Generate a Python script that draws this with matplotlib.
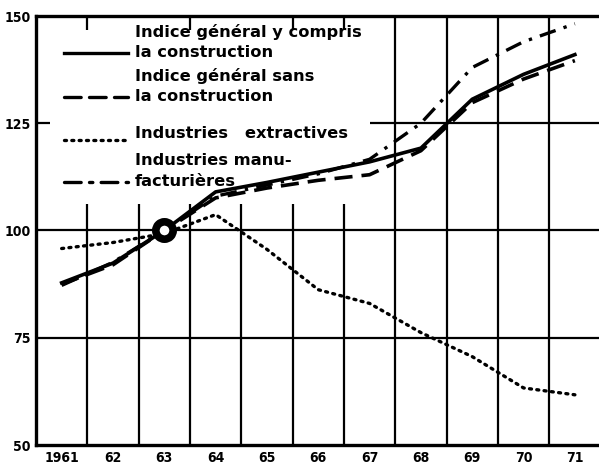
import matplotlib
matplotlib.use("Agg")
import matplotlib.pyplot as plt
from matplotlib.lines import Line2D
from matplotlib.transforms import offset_copy

# Indices de la production industrielle (1963 = 100)
years = [1961, 1962, 1963, 1964, 1965, 1966, 1967, 1968, 1969, 1970, 1971]
year_labels = ["1961", "62", "63", "64", "65", "66", "67", "68", "69", "70", "71"]

general_with_constr = [87.8, 92.4, 100, 109.0, 111.2, 113.6, 116.0, 119.2, 130.6, 136.4, 141.0]
general_without_constr = [87.5, 92.0, 100, 107.6, 109.9, 111.7, 113.0, 118.6, 129.8, 135.3, 139.6]
extractives = [95.8, 97.2, 99.3, 103.7, 95.6, 86.2, 83.0, 76.2, 70.6, 63.3, 61.7]
manufacturieres = [87.2, 92.6, 100, 108.0, 110.6, 113.2, 116.6, 125.0, 138.0, 144.0, 148.2]

y_ticks = [50, 75, 100, 125, 150]

TICK_FONT = dict(family=["DejaVu Sans"], fontstretch="condensed", fontweight="bold", fontsize=10)

fig = plt.figure(figsize=(5.99, 4.65), dpi=100)
ax = fig.add_axes([36 / 599, 1 - 445 / 465, 1 - 36 / 599, (445 - 16) / 465])
ax.set_xlim(1960.5, 1971.47)
ax.set_ylim(50, 150)

# grid: lower verticals, top stubs, full verticals on the right
bounds = [y + 0.5 for y in years[:-1]]
ax.vlines(bounds[:6], 50, 106.2, color="black", lw=1.6, zorder=1)
ax.vlines(bounds[6:], 50, 150, color="black", lw=1.6, zorder=1)
ax.vlines([bounds[0], bounds[2], bounds[4], bounds[5]], 146.8, 150, color="black", lw=1.6, zorder=1)
ax.hlines([75, 100], 1960.5, 1971.47, color="black", lw=1.6, zorder=1)
ax.hlines(125, 1967.0, 1971.47, color="black", lw=1.6, zorder=1)
ax.hlines(125, 1960.5, 1960.78, color="black", lw=1.6, zorder=1)

ax.plot(years, extractives, color="black", lw=2.4, linestyle=(0, (0.6, 1.6)),
        dash_capstyle="round", zorder=3)
ax.plot(years, manufacturieres, color="black", lw=2.4, linestyle=(0, (5, 2.5, 1, 2.5)), zorder=3)
ax.plot(years, general_without_constr, color="black", lw=2.6, linestyle=(0, (5, 2.5)), zorder=3)
ax.plot(years, general_with_constr, color="black", lw=2.6, zorder=3)

# base year marker
ax.plot([1963], [100], marker="o", markersize=12.5, markerfacecolor="white",
        markeredgecolor="black", markeredgewidth=5.5, zorder=5)

ax.spines["right"].set_visible(False)
for side in ["left", "bottom", "top"]:
    ax.spines[side].set_linewidth(2.4)

ax.set_xticks(years)
ax.set_xticklabels(year_labels, **TICK_FONT)
ax.set_yticks(y_ticks)
ax.set_yticklabels([str(v) for v in y_ticks], **TICK_FONT)
ax.tick_params(length=0, pad=4)

# legend drawn by hand: handle level with the last line of each label
legend = [
    (["Indice général y compris", "la construction"], "-", 0.914, 0),
    (["Indice général sans", "la construction"], (0, (5, 2.5)), 0.812, 0),
    (["Industries   extractives"], (0, (0.6, 1.6)), 0.711, 5),
    (["Industries manu-", "facturières"], (0, (5, 2.5, 1, 2.5)), 0.614, 0),
]
for lines, ls, yh, lift in legend:
    ax.add_line(Line2D([0.05, 0.163], [yh, yh], transform=ax.transAxes, color="black",
                       lw=2.4, linestyle=ls, dash_capstyle="round"))
    for i, line in enumerate(lines):
        up = (len(lines) - 1 - i) * 15 + lift
        tr = offset_copy(ax.transAxes, fig=fig, x=0, y=up, units="points")
        ax.text(0.175, yh, line, transform=tr, ha="left", va="center",
                family=["DejaVu Sans"], fontweight="bold", fontsize=11.7)

fig.savefig("out.png", dpi=100)
